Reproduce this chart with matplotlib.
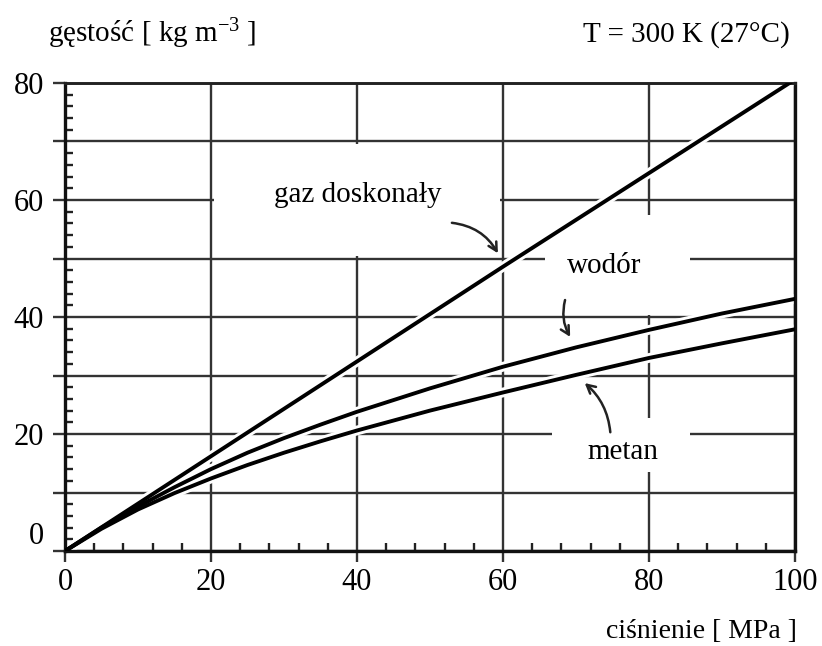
import matplotlib
matplotlib.use("Agg")
import matplotlib.pyplot as plt
from matplotlib.ticker import MultipleLocator
from matplotlib.patches import Rectangle

plt.rcParams["font.family"] = ["Liberation Serif", "DejaVu Serif"]
plt.rcParams["mathtext.fontset"] = "custom"
plt.rcParams["mathtext.rm"] = "Liberation Serif"
plt.rcParams["mathtext.it"] = "Liberation Serif:italic"

# pressure [MPa] and density [kg m^-3]
pressure = [0, 5, 10, 15, 20, 25, 30, 35, 40, 50, 60, 70, 80, 90, 100]
hydrogen = [0, 4.0, 7.6, 10.9, 14.0, 16.8, 19.3, 21.6, 23.8, 27.8, 31.5, 34.8, 37.8, 40.6, 43.1]
methane = [0, 3.8, 7.1, 9.9, 12.4, 14.7, 16.8, 18.75, 20.6, 24.0, 27.1, 30.1, 33.0, 35.5, 37.9]
ideal_pressure = [0, 20, 40, 60, 80, 100]
ideal_gas = [0, 16.2, 32.4, 48.6, 64.6, 80.6]

x_ticks = [0, 20, 40, 60, 80, 100]
x_tick_labels = ["0", "20", "40", "60", "80", "100"]
y_ticks = [0, 10, 20, 30, 40, 50, 60, 70, 80]
y_tick_labels = ["0", "", "20", "", "40", "", "60", "", "80"]

W, H = 822, 646
fig = plt.figure(figsize=(W / 100, H / 100), dpi=100)
ax = fig.add_axes([65 / W, 1 - 551 / H, (795 - 65) / W, (551 - 83) / H])

ax.set_xlim(0, 100)
ax.set_ylim(0, 80)

grid_col = "#333333"
ax.set_xticks(x_ticks)
ax.set_xticklabels(x_tick_labels)
ax.set_yticks(y_ticks)
ax.set_yticklabels(y_tick_labels)
ax.xaxis.set_minor_locator(MultipleLocator(4))
ax.yaxis.set_minor_locator(MultipleLocator(2))

ax.set_axisbelow(True)
ax.grid(True, which="major", color=grid_col, lw=1.7, zorder=0.5)

ax.tick_params(axis="x", which="major", direction="out", length=8, width=1.7,
               color=grid_col, pad=4, labelsize=22)
ax.tick_params(axis="y", which="major", direction="out", length=9, width=1.7,
               color=grid_col, pad=6, labelsize=22)
ax.tick_params(axis="both", which="minor", direction="in", length=6, width=1.7,
               color="#222222")
ax.tick_params(top=False, right=False, which="both")

for lbl in ax.get_yticklabels():
    if lbl.get_text() == "0":
        lbl.set_va("bottom")

for side in ("left", "bottom", "right"):
    ax.spines[side].set_linewidth(2.4)
    ax.spines[side].set_color("#111111")
ax.spines["top"].set_linewidth(2.1)
ax.spines["top"].set_color("#222222")

# blank panels behind the curve labels
for (x0, y0, x1, y1) in [(20.4, 50.4, 59.6, 69.6),
                         (65.8, 40.4, 85.6, 57.4),
                         (66.7, 13.5, 85.6, 22.7)]:
    ax.add_patch(Rectangle((x0, y0), x1 - x0, y1 - y0, facecolor="white",
                           edgecolor="none", zorder=1))

# white outline under the curves, then the curves themselves
curves = [(ideal_pressure, ideal_gas), (pressure, hydrogen), (pressure, methane)]
for xs, ys in curves:
    ax.plot(xs, ys, color="white", lw=7, solid_capstyle="butt", zorder=2)
for xs, ys in curves:
    ax.plot(xs, ys, color="black", lw=2.8, solid_joinstyle="round", zorder=3)

ax.text(40.1, 59.7, "gaz doskonały", ha="center", va="baseline", fontsize=21, zorder=5)
ax.text(73.8, 47.5, "wodór", ha="center", va="baseline", fontsize=21, zorder=5)
ax.text(76.4, 15.7, "metan", ha="center", va="baseline", fontsize=21, zorder=5)

arrow_kw = dict(arrowstyle="->,head_length=0.6,head_width=0.32", color="#222222",
                lw=1.8, shrinkA=0, shrinkB=0)
ax.annotate("", xy=(59.3, 50.9), xytext=(53.0, 56.1),
            arrowprops=dict(connectionstyle="arc3,rad=-0.25", **arrow_kw), zorder=5)
ax.annotate("", xy=(69.2, 36.6), xytext=(68.5, 42.9),
            arrowprops=dict(connectionstyle="arc3,rad=0.2", **arrow_kw), zorder=5)
ax.annotate("", xy=(71.2, 28.7), xytext=(74.7, 20.3),
            arrowprops=dict(connectionstyle="arc3,rad=0.2", **arrow_kw), zorder=5)

fig.text(48 / W, 1 - 42 / H, r"gęstość [ kg m$^{\mathregular{-3}}$ ]", ha="left",
         va="baseline", fontsize=21)
fig.text(790 / W, 1 - 42 / H, "T = 300 K (27°C)", ha="right", va="baseline", fontsize=21)
fig.text(797 / W, 1 - 638 / H, "ciśnienie [ MPa ]", ha="right", va="baseline", fontsize=20)

fig.savefig("out.png", dpi=100, facecolor="white")
